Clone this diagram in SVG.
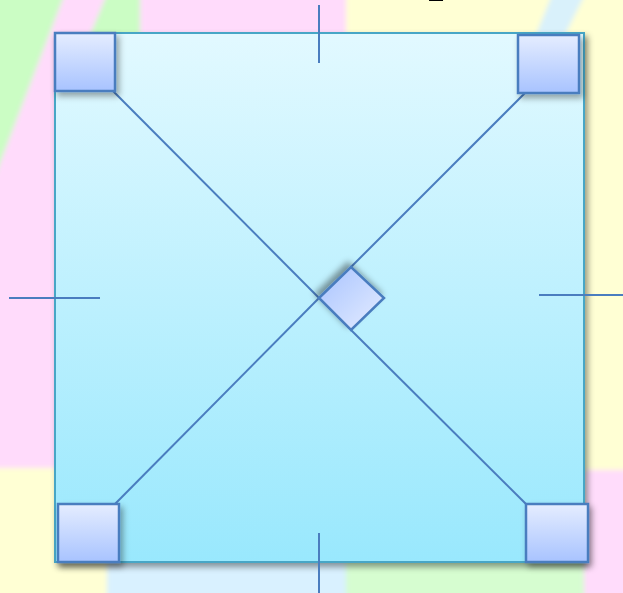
<svg xmlns="http://www.w3.org/2000/svg" width="623" height="593" viewBox="0 0 623 593">
<defs>
<style>
.conn{stroke:#4a7dbf;stroke-width:2;fill:none}
.tick{stroke:#4a7dbf;stroke-width:2;fill:none}
.box{fill:url(#gBox);stroke:#4a7dbf;stroke-width:2.5;filter:url(#shBox)}
.txt{font-family:"Liberation Serif","DejaVu Serif",serif;font-size:64px;fill:#000}
</style>
<linearGradient id="gMain" x1="0" y1="0" x2="0" y2="1">
<stop offset="0" stop-color="#e2f9ff"/>
<stop offset="1" stop-color="#99e8fd"/>
</linearGradient>
<linearGradient id="gBox" x1="0" y1="0" x2="0" y2="1">
<stop offset="0" stop-color="#e5edff"/>
<stop offset="1" stop-color="#a8c3ff"/>
</linearGradient>
<linearGradient id="gDia" x1="0" y1="0" x2="1" y2="1">
<stop offset="0" stop-color="#a8c3ff"/>
<stop offset="1" stop-color="#e5edff"/>
</linearGradient>
<filter id="blurBg" x="-10%" y="-10%" width="120%" height="120%">
<feGaussianBlur stdDeviation="2.5"/>
</filter>
<filter id="shMain" x="-10%" y="-10%" width="125%" height="125%">
<feDropShadow dx="3" dy="4" stdDeviation="3" flood-color="#000" flood-opacity="0.4"/>
</filter>
<filter id="shBox" x="-30%" y="-30%" width="170%" height="170%">
<feDropShadow dx="3" dy="4" stdDeviation="3" flood-color="#000" flood-opacity="0.35"/>
</filter>
<filter id="shDia" x="-40%" y="-40%" width="180%" height="180%">
<feDropShadow dx="-3" dy="-4" stdDeviation="3" flood-color="#000" flood-opacity="0.4"/>
</filter>
</defs>
<g id="background" filter="url(#blurBg)">
<rect x="-20" y="-20" width="663" height="633" fill="#ffffd4"/>
<rect x="-20" y="-20" width="366" height="488" fill="#ffdbfb"/>
<polygon points="-20,-20 70,-20 -20,215" fill="#cbfdc4"/>
<polygon points="113,-20 140,-20 140,45 86,45" fill="#cbfdc4"/>
<polygon points="558,-20 592,-20 560,45 532,45" fill="#d9f1fb"/>
<rect x="107" y="440" width="239" height="173" fill="#d9f1ff"/>
<rect x="346" y="440" width="238" height="173" fill="#d6fdd0"/>
<rect x="584" y="470" width="59" height="143" fill="#ffdcfb"/>
</g>
<text class="txt" x="428" y="-13">p</text>
<g id="frame">
<rect x="55" y="33" width="529" height="529" fill="url(#gMain)" stroke="#46a6c6" stroke-width="2" filter="url(#shMain)"/>
</g>
<g id="ticks">
<line class="tick" x1="319" y1="5" x2="319" y2="63"/>
<line class="tick" x1="319" y1="533" x2="319" y2="593"/>
<line class="tick" x1="9" y1="298" x2="100" y2="298"/>
<line class="tick" x1="539" y1="295" x2="623" y2="295"/>
</g>
<g id="connectors">
<line class="conn" x1="113" y1="91" x2="319" y2="298"/>
<line class="conn" x1="525" y1="93" x2="351" y2="267"/>
<line class="conn" x1="115" y1="504" x2="319" y2="298"/>
<line class="conn" x1="526" y1="504" x2="351" y2="330"/>
</g>
<g id="node-tl"><rect class="box" x="55" y="33" width="60" height="58"/></g>
<g id="node-tr"><rect class="box" x="518" y="35" width="61" height="58"/></g>
<g id="node-bl"><rect class="box" x="58" y="504" width="61" height="58"/></g>
<g id="node-br"><rect class="box" x="526" y="504" width="62" height="58"/></g>
<g id="node-center"><polygon points="319,298 351,267 384,298 351,330" fill="url(#gDia)" stroke="#4a7dbf" stroke-width="2.5" filter="url(#shDia)"/></g>
</svg>
